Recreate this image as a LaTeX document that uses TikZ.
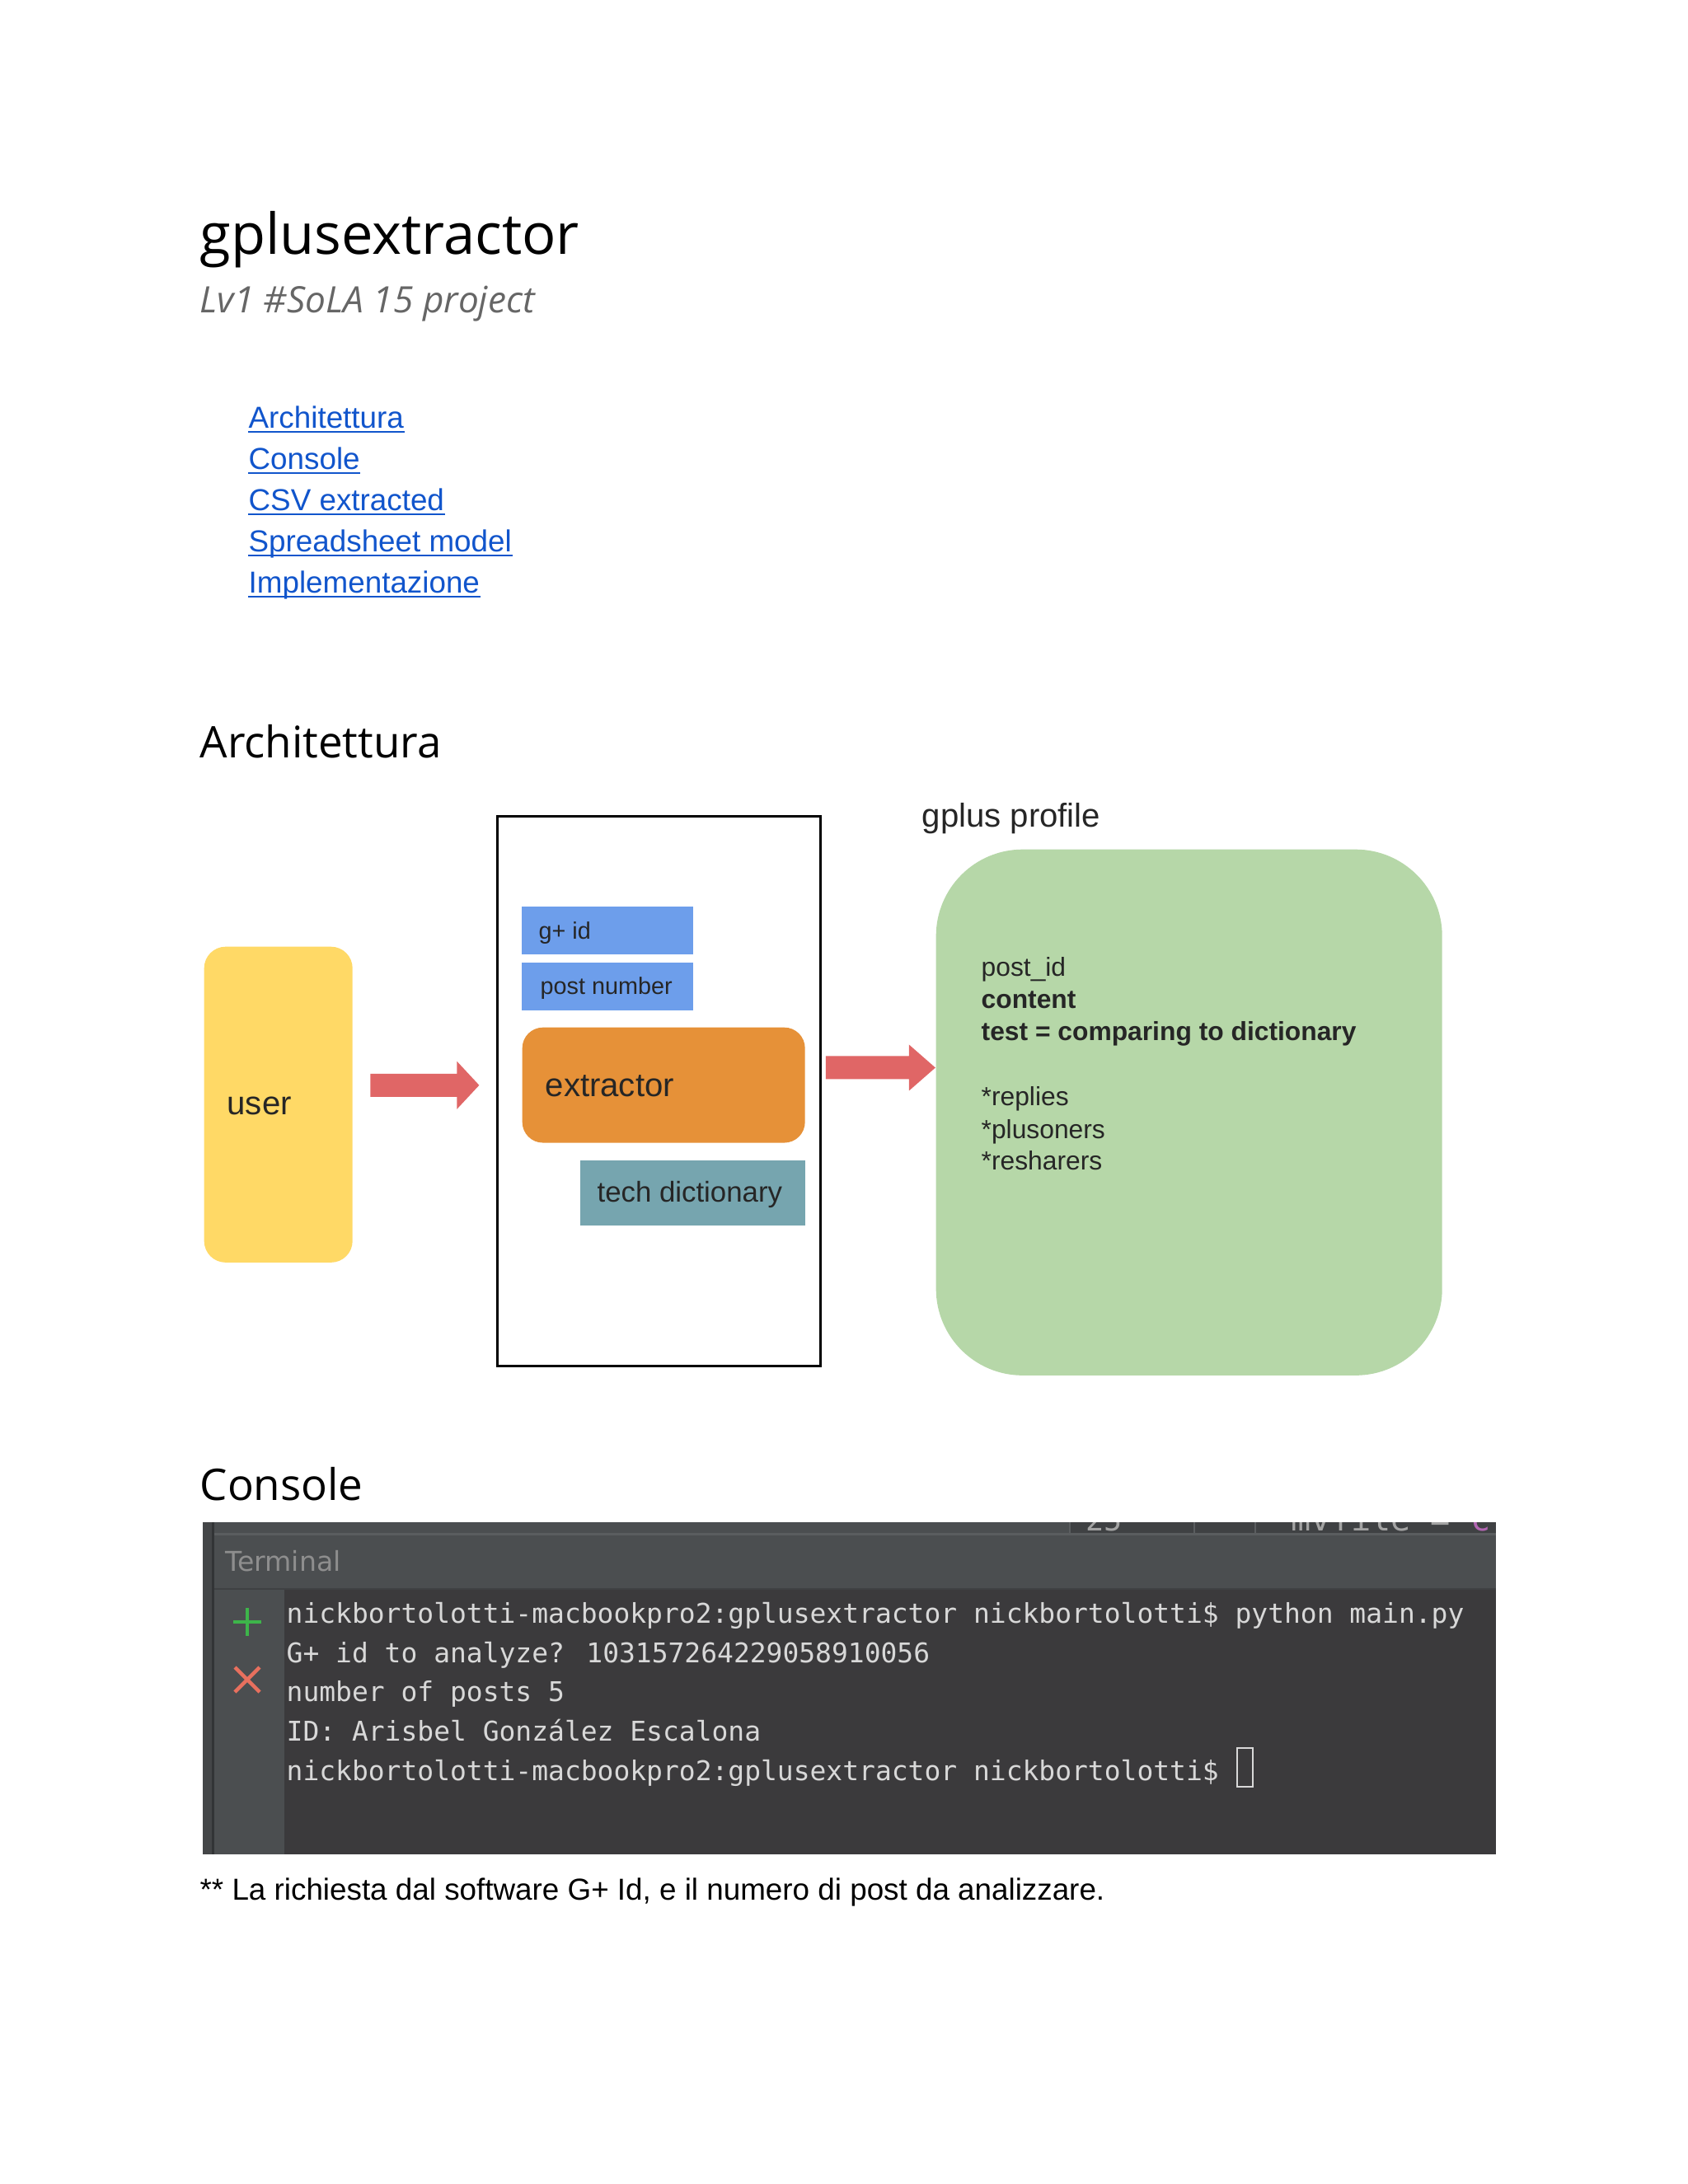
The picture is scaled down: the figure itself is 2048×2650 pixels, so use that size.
\documentclass[tikz,border=0pt]{standalone}
\usepackage{fontspec}
\setmainfont{Liberation Sans}
\newfontfamily\headfont{Open Sans}
\newfontfamily\monofont{DejaVu Sans Mono}
\newfontfamily\panelfont{DejaVu Sans}
\usetikzlibrary{calc}

\definecolor{flowred}{HTML}{E06666}
\definecolor{userfill}{HTML}{FFD966}
\definecolor{inputblue}{HTML}{6D9EEB}
\definecolor{extorange}{HTML}{E69138}
\definecolor{dictteal}{HTML}{76A5AF}
\definecolor{profgreen}{HTML}{B6D7A8}
\definecolor{linkblue}{HTML}{1155CC}
\definecolor{subgray}{HTML}{666666}
\definecolor{termbody}{HTML}{3B3A3C}
\definecolor{termhead}{HTML}{4B4E50}
\definecolor{termstrip}{HTML}{3F4143}
\definecolor{termedge}{HTML}{5A5D5F}
\definecolor{termtext}{HTML}{D8D8D8}
\definecolor{termlabel}{HTML}{8E8E8E}
\definecolor{plusgreen}{HTML}{3DB54A}
\definecolor{crossred}{HTML}{E8705E}

\newcommand{\fsz}[1]{\fontsize{#1}{1.2\dimexpr#1\relax}\selectfont}

\begin{document}
\begin{tikzpicture}[x=0.29883pt,y=-0.29883pt,
  txt/.style={inner sep=0pt,anchor=base west},
  heading/.style={txt,font=\headfont\fsz{15.8pt}},
  link/.style={txt,font=\fsz{11pt},text=linkblue},
  box/.style={inner sep=0pt,anchor=north west,draw=none},
  boxtxt/.style={txt,text=black!85},
  flow/.style={fill=flowred},
  termline/.style={txt,font=\monofont\fsz{9.85pt},text=termtext}]
\useasboundingbox (0,0) rectangle (2048,2650);
\fill [white] (0,0) rectangle (2048,2650);

% title block
\node [txt,font=\headfont\fsz{20.5pt}] (title) at (242,308) {gplusextractor};
\node [txt,font=\headfont\itshape\fsz{13.2pt},text=subgray] (subtitle) at (242,379) {Lv1 \#SoLA 15 project};

% contents
\foreach \t [count=\i] in {Architettura,Console,CSV extracted,Spreadsheet model,Implementazione}{
  \node [link] (link\i) at (301,{469.5+50*\i}) {\t};
  \draw [linkblue,line width=0.45pt] ([yshift=-1.3pt]link\i.base west) -- ([yshift=-1.3pt]link\i.base east);
}

% architecture
\node [heading] (archhead) at (242,919) {Architettura};

\node [box,fill=userfill,rounded corners=7.8pt,minimum width=53.8pt,minimum height=114.5pt] (user) at (247,1148) {};
\node [boxtxt,font=\fsz{12pt}] (usertxt) at (275,1352) {user};

\node [box,draw=black,fill=white,line width=0.9pt,minimum width=117.1pt,minimum height=199.3pt] (frame) at (602,989) {};
\node [box,fill=inputblue,minimum width=62.2pt,minimum height=17.3pt] (gid) at (632,1099) {};
\node [boxtxt,font=\fsz{8.6pt}] (gidtxt) at (653,1139) {g+ id};
\node [box,fill=inputblue,minimum width=62.2pt,minimum height=17.3pt] (postnum) at (632,1167) {};
\node [boxtxt,font=\fsz{8.6pt}] (postnumtxt) at (655,1206) {post number};
\node [box,fill=extorange,rounded corners=7.5pt,minimum width=102.5pt,minimum height=41.8pt] (extractor) at (633,1246) {};
\node [boxtxt,font=\fsz{12pt}] (extractortxt) at (661,1330) {extractor};
\node [box,fill=dictteal,minimum width=81.6pt,minimum height=23.6pt] (dict) at (703,1407) {};
\node [boxtxt,font=\fsz{10.4pt}] (dicttxt) at (724,1458) {tech dictionary};

\node [txt,font=\fsz{12pt},text=black!85] (proftitle) at (1118,1003) {gplus profile};
\node [box,fill=profgreen,rounded corners=31.4pt,minimum width=183.5pt,minimum height=190.7pt] (profile) at (1135,1030) {};
\node [boxtxt,font=\fsz{9.5pt}] (p1) at (1190,1184) {post\_id};
\node [boxtxt,font=\bfseries\fsz{9.5pt}] (p2) at (1190,1223) {content};
\node [boxtxt,font=\bfseries\fsz{9.5pt}] (p3) at (1190,1262) {test = comparing to dictionary};
\node [boxtxt,font=\fsz{9.5pt}] (p4) at (1190,1341) {*replies};
\node [boxtxt,font=\fsz{9.5pt}] (p5) at (1190,1381) {*plusoners};
\node [boxtxt,font=\fsz{9.5pt}] (p6) at (1190,1419) {*resharers};

% block arrows
\fill [flow] ([shift={(21,-37.5)}]user.east) -- ++(105,0) -- ++(0,-15) -- ++(27,29) -- ++(-27,29) -- ++(0,-15) -- ++(-105,0) -- cycle;
\fill [flow] ([shift={(5,-42.5)}]frame.east) -- ++(101,0) -- ++(0,-14) -- ++(32,28) -- ++(-32,28) -- ++(0,-14) -- ++(-101,0) -- cycle;

% console
\node [heading] (conshead) at (242,1820) {Console};

\fill [termbody] (246,1847) rectangle (1815,2250);
\fill [termstrip] (246,1847) rectangle (1815,1860);
\fill [termedge] (260,1860) rectangle (1815,1863);
\fill [termhead] (260,1863) rectangle (1815,1927);
\fill [termstrip] (260,1927) rectangle (1815,1929);
\fill [termhead] (260,1929) rectangle (345,2250);
\fill [termhead!90!black] (246,1847) rectangle (257,2250);
\fill [termstrip!80!black] (257,1847) rectangle (260,2250);
\begin{scope}
\clip (260,1847) rectangle (1815,1860);
\fill [termhead] (260,1847) rectangle (1298,1860);
\draw [termedge,line width=0.5pt] (1298,1847) -- (1298,1860);
\draw [termedge,line width=0.5pt] (1449,1847) -- (1449,1860);
\draw [termedge,line width=0.5pt] (1523,1847) -- (1523,1860);
\node [txt,font=\monofont\fsz{11pt},text=termlabel!80!white] (tabnum) at (1317,1857) {25};
\node [txt,font=\monofont\fsz{12pt},text=termlabel!80!white] (tabfile) at (1566,1857) {mvfile = \textcolor{violet!60!white}{c}};
\end{scope}

\node [txt,font=\panelfont\fsz{9.9pt},text=termlabel] (termtitle) at (273,1906) {Terminal};
\draw [plusgreen,line width=1.3pt] (283,1968) -- (317,1968) (300,1951) -- (300,1985);
\draw [crossred,line width=1.3pt] (285,2023) -- (315,2053) (285,2053) -- (315,2023);

\node [termline] (t1) at (347,1969) {nickbortolotti-macbookpro2:gplusextractor nickbortolotti\$ python main.py};
\node [termline] (t2) at (347,2017) {G+ id to analyze? 103157264229058910056};
\node [termline] (t3) at (347,2064) {number of posts 5};
\node [termline] (t4) at (347,2112) {ID: Arisbel González Escalona};
\node [termline] (t5) at (347,2160) {nickbortolotti-macbookpro2:gplusextractor nickbortolotti\$};
\node [draw=termtext,line width=0.6pt,inner sep=0pt,minimum width=5.7pt,minimum height=14pt,anchor=south west] (cursor) at ([xshift=6pt,yshift=-2.7pt]t5.base east) {};

\node [txt,font=\fsz{11pt}] (note) at (242,2305) {** La richiesta dal software G+ Id, e il numero di post da analizzare.};
\end{tikzpicture}
\end{document}
